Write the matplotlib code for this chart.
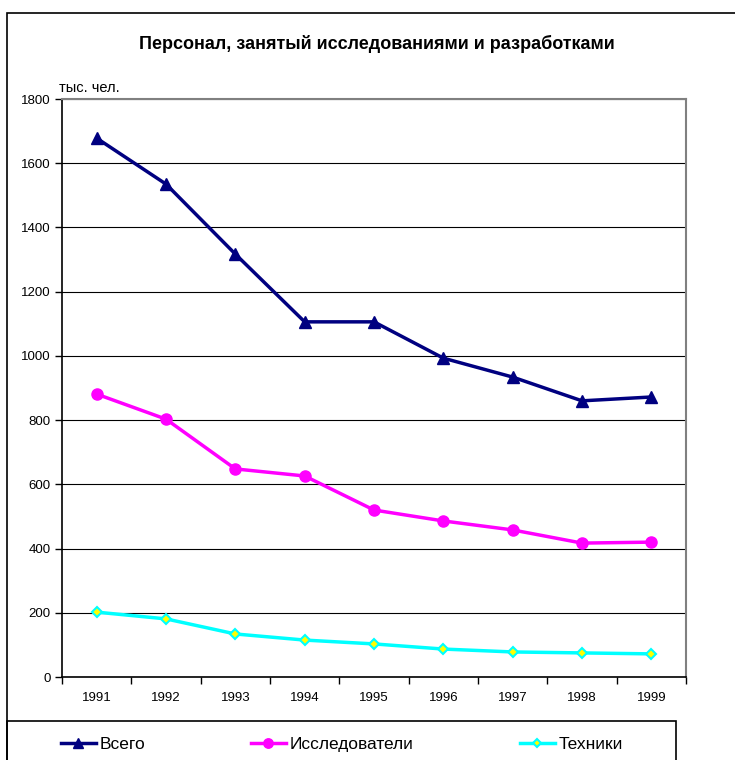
import matplotlib.pyplot as plt
from matplotlib.patches import Rectangle
import numpy as np

plt.rcParams['font.family'] = ['Liberation Sans', 'DejaVu Sans']

# data
years = ['1991', '1992', '1993', '1994', '1995', '1996', '1997', '1998', '1999']
vsego = [1678, 1535, 1317, 1106, 1106, 993, 934, 860, 872]
issled = [881, 803, 648, 626, 520, 486, 458, 417, 420]
tekhniki = [202, 181, 134, 115, 103, 87, 78, 75, 72]

W, H = 735, 760
fig = plt.figure(figsize=(W / 100, H / 100), dpi=100)
ax = fig.add_axes([62 / W, 1 - 677 / H, (686 - 62) / W, (677 - 99) / H])

x = np.arange(len(years))
l1, = ax.plot(x, vsego, color='#000080', lw=2.5, marker='^', ms=8, label='Всего', zorder=5)
l2, = ax.plot(x, issled, color='#FF00FF', lw=2.5, marker='o', ms=8, label='Исследователи', zorder=5)
l3, = ax.plot(x, tekhniki, color='#00FFFF', lw=2.5, marker='D', ms=5, mfc='#FFFF00',
              mec='#00FFFF', mew=1.5, label='Техники', zorder=5)

ax.set_xlim(-0.5, len(years) - 0.5)
ax.set_ylim(0, 1800)
ax.set_yticks(range(0, 1801, 200))
ax.yaxis.grid(True, color='black', lw=0.8)
ax.set_axisbelow(True)

# category labels centred, ticks on the boundaries
ax.set_xticks(x)
ax.set_xticklabels(years)
ax.tick_params(axis='x', which='major', length=0, pad=11, labelsize=9.5)
ax.set_xticks(np.arange(-0.5, len(years), 1), minor=True)
ax.tick_params(axis='x', which='minor', length=5, direction='out', width=1)
ax.tick_params(axis='y', length=5, width=1, direction='out', labelsize=9.5, pad=3)

for s in ['left', 'bottom']:
    ax.spines[s].set_color('black')
    ax.spines[s].set_linewidth(1.2)
for s in ['top', 'right']:
    ax.spines[s].set_color('#808080')
    ax.spines[s].set_linewidth(1.5)

fig.text(377 / W, 1 - 44 / H, 'Персонал, занятый исследованиями и разработками',
         ha='center', va='center', fontsize=13, fontweight='bold')
fig.text(59 / W, 1 - 88 / H, 'тыс. чел.', ha='left', va='center', fontsize=10.5)

# outer frame (right and bottom edges are outside the picture)
fig.patches.append(Rectangle((7 / W, -0.05), 1.2, 1 - 13 / H + 0.05,
                             transform=fig.transFigure, fill=False, ec='black', lw=1.2))
# legend box
fig.patches.append(Rectangle((7 / W, -0.05), (676 - 7) / W, 1 - 721 / H + 0.05,
                             transform=fig.transFigure, fill=False, ec='black', lw=1.2))

# one legend entry per series, placed like the original
for line, xpos in [(l1, 61), (l2, 251), (l3, 520)]:
    lg = fig.legend(handles=[line], loc='center left', bbox_to_anchor=(xpos / W, 1 - 744 / H),
                    frameon=False, fontsize=12.5, handlelength=2.0, handletextpad=0.2,
                    borderpad=0, borderaxespad=0, markerscale=0.85)

fig.savefig('out.png', dpi=100)
